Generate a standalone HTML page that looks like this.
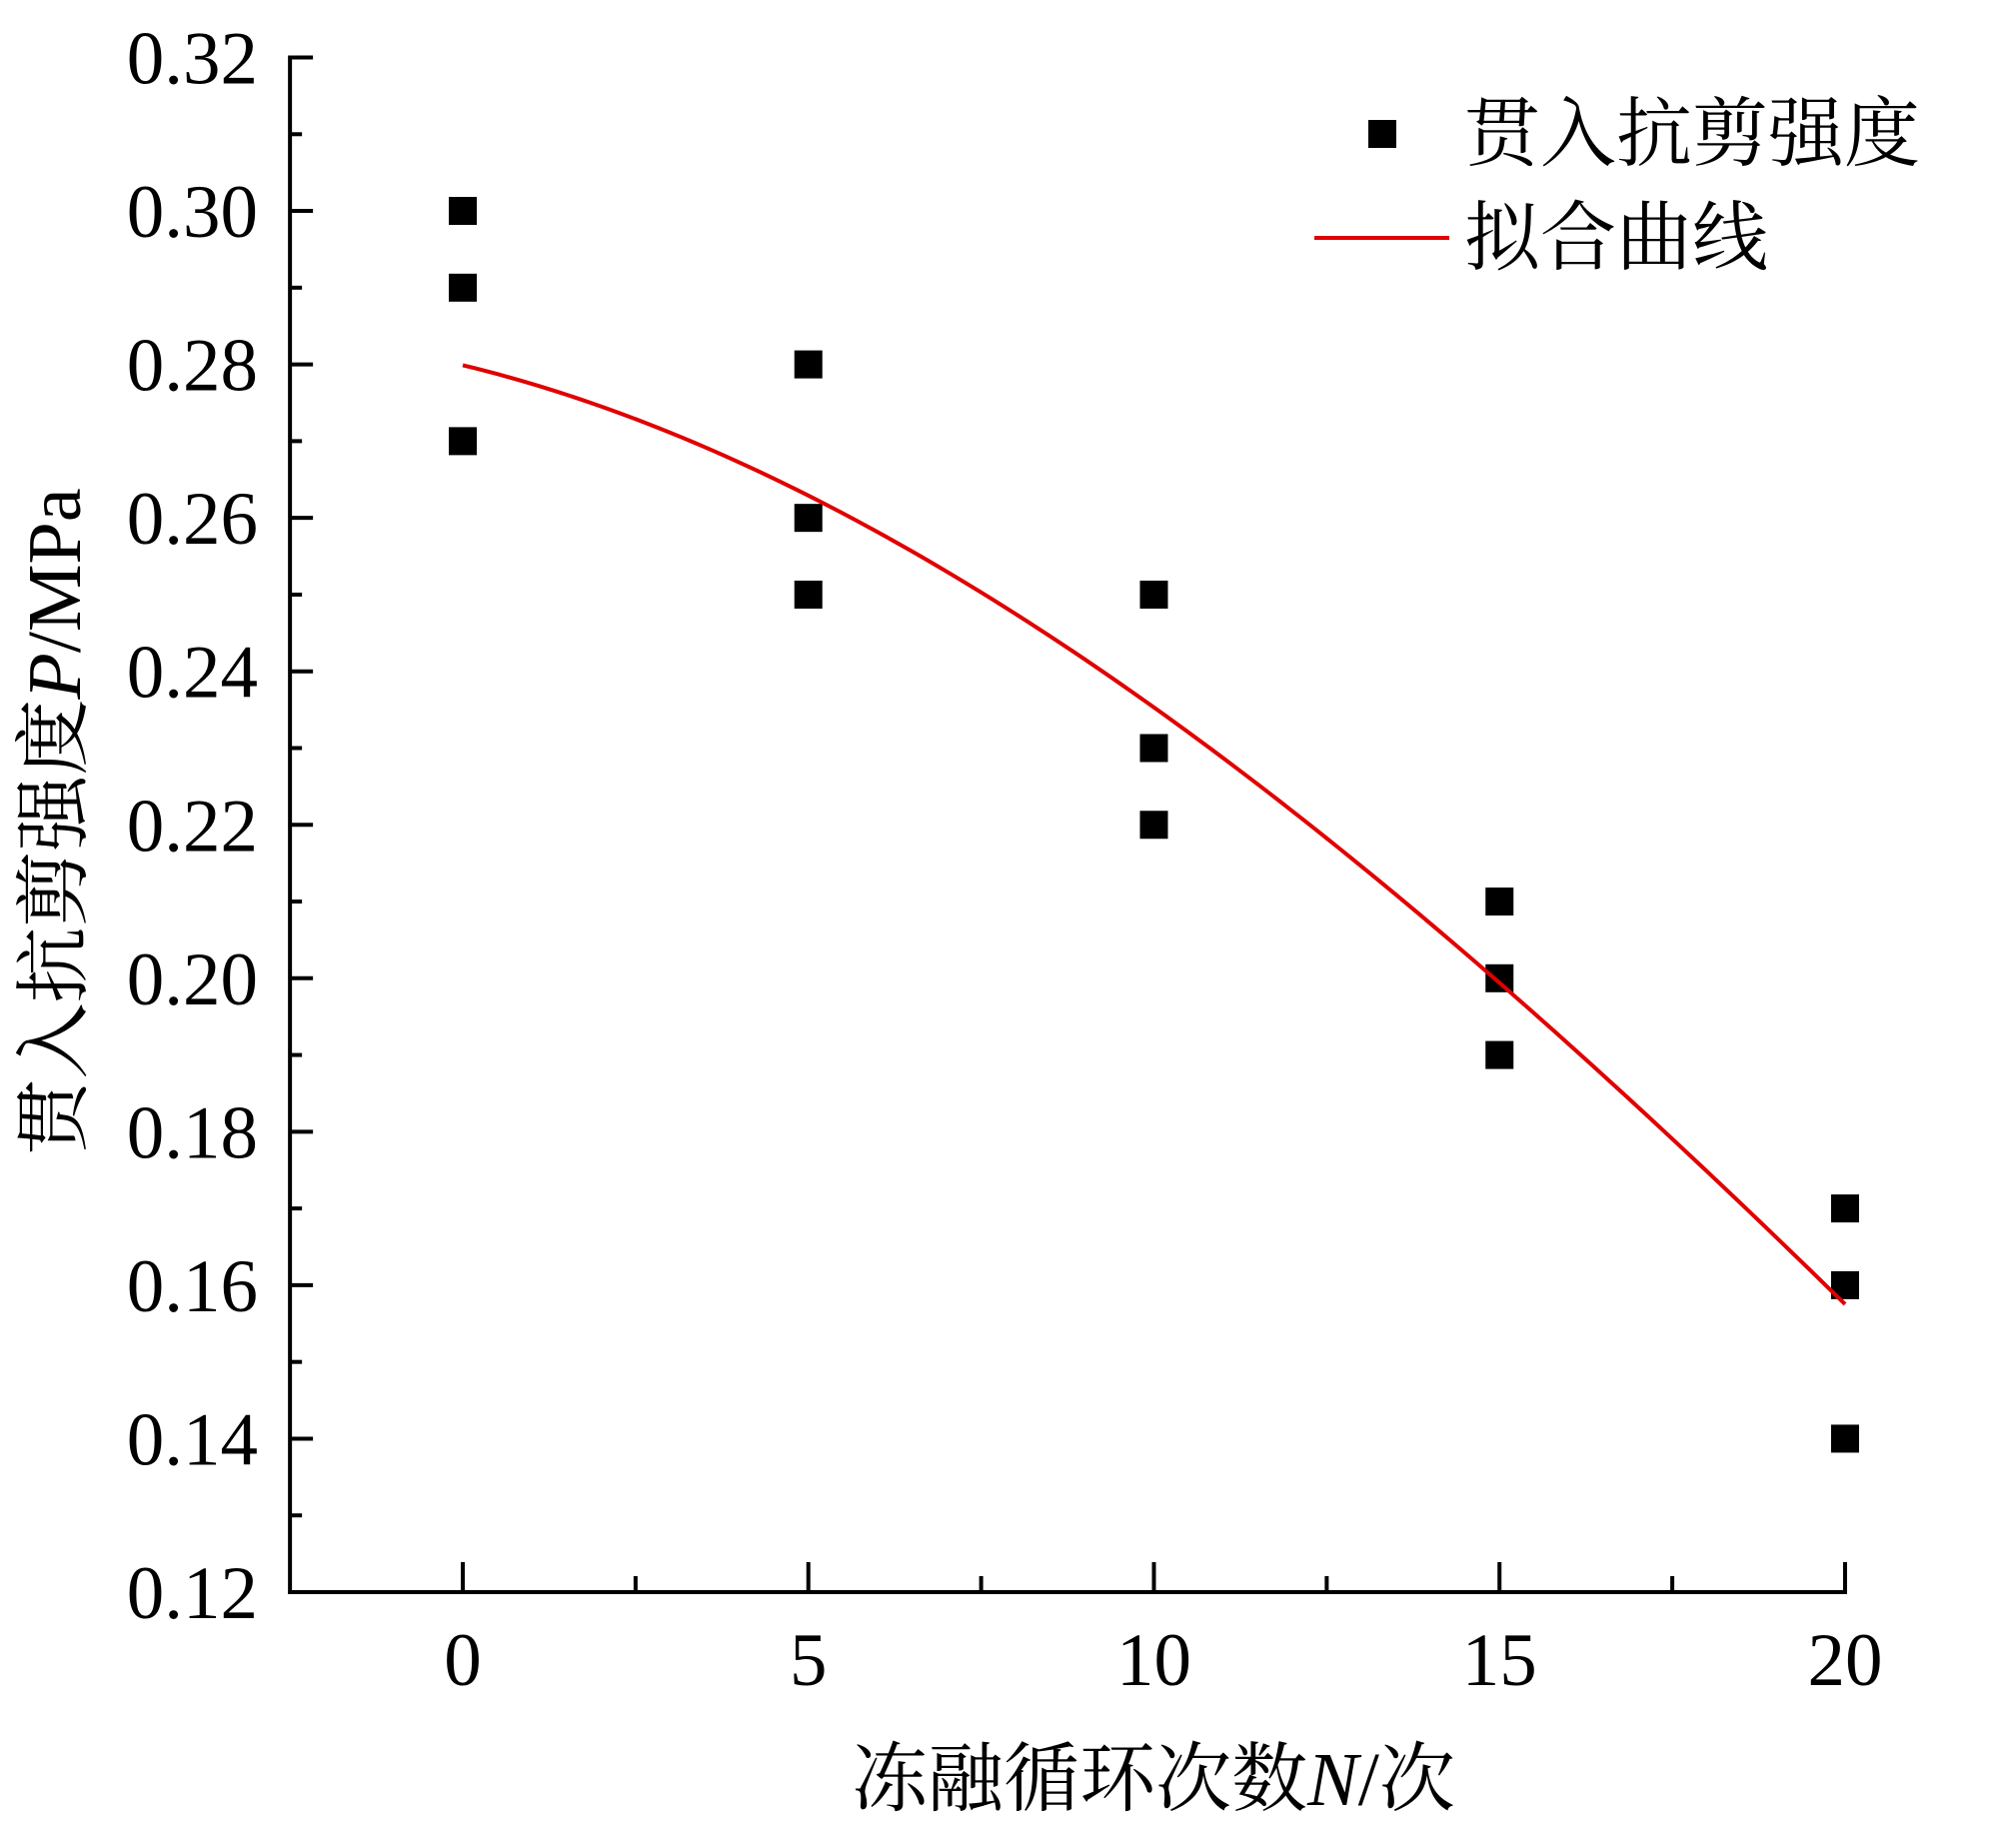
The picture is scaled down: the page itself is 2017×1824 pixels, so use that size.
<!DOCTYPE html>
<html><head><meta charset="utf-8"><style>
html,body{margin:0;padding:0;background:#fff;}
svg{display:block;}
text{font-family:"Liberation Serif","Noto Serif CJK SC",serif;fill:#000;}
</style></head><body>
<svg id="chart" width="2017" height="1824" viewBox="0 0 2017 1824" xmlns="http://www.w3.org/2000/svg">
<g id="axes"></g>
<g id="marks"></g>
<g>
  <rect x="1369" y="120" width="28" height="28" fill="#000"/>
  <text x="1465" y="160" font-size="76">贯入抗剪强度</text>
  <line x1="1315" y1="238" x2="1450" y2="238" stroke="#e00000" stroke-width="4"/>
  <text x="1465" y="264" font-size="76">拟合曲线</text>
</g>
<text x="1154" y="1806" font-size="76" text-anchor="middle">冻融循环次数<tspan font-style="italic">N</tspan>/次</text>
<text transform="translate(80,822) rotate(-90)" font-size="76" text-anchor="middle">贯入抗剪强度<tspan font-style="italic">P</tspan>/MPa</text>
</svg>
<script>
const xCats = [0,5,10,15,20];
const seriesA = [0.30,0.28,0.25,0.21,0.17];
const seriesB = [0.29,0.26,0.23,0.20,0.16];
const seriesC = [0.27,0.25,0.22,0.19,0.14];
const fitX = [0,2.5,5,7.5,10,12.5,15,17.5,20];
const fitY = [0.2795,0.2735,0.263,0.2505,0.2345,0.218,0.1995,0.180,0.157];
const yTicks = ["0.12","0.14","0.16","0.18","0.20","0.22","0.24","0.26","0.28","0.30","0.32"];
const xTicks = ["0","5","10","15","20"];

const NS="http://www.w3.org/2000/svg";
const X0=463, XS=69.15, YB=1593, YT=57.5, YMIN=0.12, YMAX=0.32;
function sx(v){return X0+v*XS;}
function sy(v){return YB-(v-YMIN)/(YMAX-YMIN)*(YB-YT);}
function mk(tag,attrs,parent){const e=document.createElementNS(NS,tag);for(const k in attrs)e.setAttribute(k,attrs[k]);parent.appendChild(e);return e;}
const axes=document.getElementById('axes'), marks=document.getElementById('marks');
const xl=sx(-2.5), xr=sx(20);
let e;
e=mk('line',{x1:xl,y1:YB,x2:xr,y2:YB,stroke:'#000','stroke-width':4,'stroke-linecap':'square'},axes);


e=mk('line',{x1:xl,y1:YB,x2:xl,y2:YT,stroke:'#000','stroke-width':4,'stroke-linecap':'square'},axes);


for(let i=0;i<=20;i++){
  const v=YMIN+i*0.01, y=sy(v), major=i%2===0;
  e=mk('line',{x1:xl,y1:y,x2:xl+(major?23:12),y2:y,stroke:'#000','stroke-width':4},axes);
  
  
}
yTicks.forEach((t)=>{
  e=mk('text',{x:258,y:sy(parseFloat(t))+26,'font-size':75,'text-anchor':'end'},axes);
  e.textContent=t;
  
  
});
for(let i=0;i<=8;i++){
  const v=i*2.5, x=sx(v), major=i%2===0;
  e=mk('line',{x1:x,y1:YB,x2:x,y2:YB-(major?30:16),stroke:'#000','stroke-width':4},axes);
  
  
}
xTicks.forEach((t)=>{
  e=mk('text',{x:sx(parseFloat(t)),y:1686,'font-size':75,'text-anchor':'middle'},axes);
  e.textContent=t;
  
  
});
[seriesA,seriesB,seriesC].forEach((s)=>{
  s.forEach((v,i)=>{
    e=mk('rect',{x:sx(xCats[i])-14,y:sy(v)-14,width:28,height:28,fill:'#000'},marks);
    
    
  });
});
// least-squares cubic through the fit points, for a smooth curve
function polyfit(xs,ys,deg){
  const n=deg+1, A=[], b=[];
  for(let r=0;r<n;r++){A.push(new Array(n).fill(0));b.push(0);}
  xs.forEach((x,k)=>{for(let r=0;r<n;r++){b[r]+=ys[k]*Math.pow(x,r);for(let c=0;c<n;c++)A[r][c]+=Math.pow(x,r+c);}});
  for(let i=0;i<n;i++){
    let p=i;for(let r=i+1;r<n;r++)if(Math.abs(A[r][i])>Math.abs(A[p][i]))p=r;
    [A[i],A[p]]=[A[p],A[i]];[b[i],b[p]]=[b[p],b[i]];
    for(let r=i+1;r<n;r++){const f=A[r][i]/A[i][i];for(let c=i;c<n;c++)A[r][c]-=f*A[i][c];b[r]-=f*b[i];}
  }
  const co=new Array(n).fill(0);
  for(let i=n-1;i>=0;i--){let s=b[i];for(let c=i+1;c<n;c++)s-=A[i][c]*co[c];co[i]=s/A[i][i];}
  return co;
}
const co=polyfit(fitX,fitY,3);
const x0=fitX[0], x1=fitX[fitX.length-1];
let d='';
for(let i=0;i<=120;i++){
  const x=x0+(x1-x0)*i/120;
  let y=0;for(let k=0;k<co.length;k++)y+=co[k]*Math.pow(x,k);
  d+=(i?' L':'M')+sx(x).toFixed(2)+','+sy(y).toFixed(2);
}
e=mk('path',{d:d,fill:'none',stroke:'#e00000','stroke-width':4,'stroke-linejoin':'round'},marks);


</script>
</body></html>
